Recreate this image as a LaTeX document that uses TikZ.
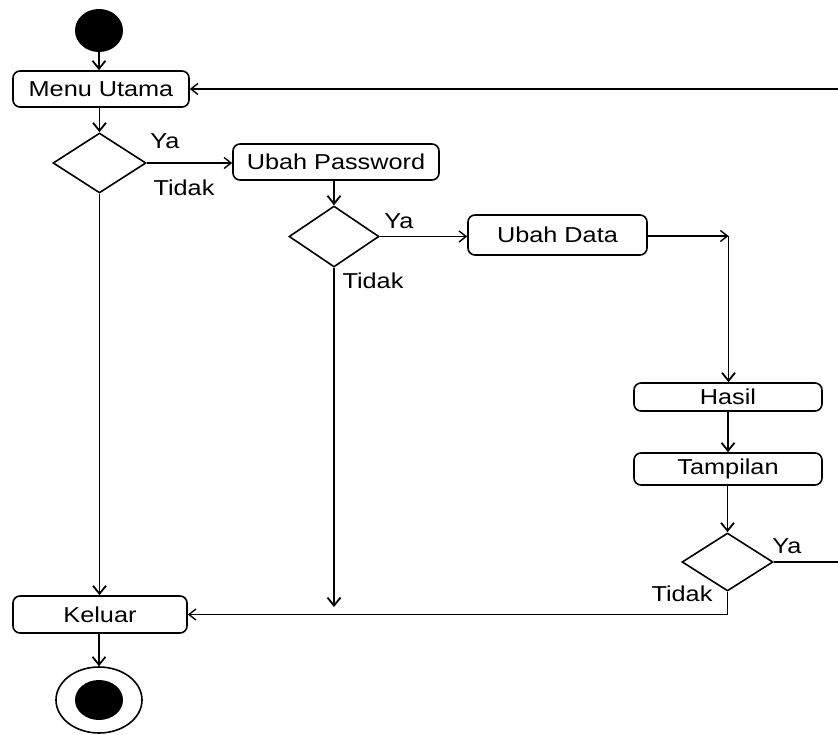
\documentclass[tikz,border=0pt]{standalone}
\usepackage{fontspec}
\newfontfamily\lab{Liberation Sans}[FakeStretch=1.17]
\usetikzlibrary{arrows.meta,shapes.geometric}
\begin{document}
\begin{tikzpicture}[x=1pt,y=-1pt,
  txt/.style={font=\lab\fontsize{21.6}{26}\selectfont},
  act/.style={draw, rounded corners=7pt, line width=1.6pt, inner sep=0pt, txt},
  dec/.style={draw, diamond, line width=1.6pt, inner sep=0pt},
  flow/.style={line width=1.8pt, -{Straight Barb[length=8pt,width=13pt]}},
  hflow/.style={line width=1.4pt, -{Straight Barb[length=7pt,width=11pt]}},
  lbl/.style={txt, inner sep=0pt}]
\useasboundingbox (0,0) rectangle (838,735);
\clip (0,0) rectangle (838,735);
\fill[white] (0,0) rectangle (838,735);
% nodes
\node[fill=black, ellipse, inner sep=0pt, minimum width=48pt, minimum height=43pt] (start) at (99,30.5) {};
\node[act, minimum width=176pt, minimum height=36pt] (mu) at (101,89) {Menu Utama};
\node[dec, minimum width=93pt, minimum height=60pt] (d1) at (99.5,163) {};
\node[act, minimum width=206pt, minimum height=36pt] (up) at (336,162) {Ubah Password};
\node[dec, minimum width=90pt, minimum height=61pt] (d2) at (334,236.5) {};
\node[act, minimum width=179pt, minimum height=40pt] (ud) at (557.5,235) {Ubah Data};
\coordinate (j) at (728.5,236);
\node[act, minimum width=188pt, minimum height=28pt] (ha) at (728,397) {Hasil};
\node[act, minimum width=188pt, minimum height=32pt] (tp) at (728,469) {Tampilan};
\node[dec, minimum width=91pt, minimum height=58pt] (d3) at (727.5,562) {};
\node[act, minimum width=174pt, minimum height=37pt] (ke) at (100,614.5) {Keluar};
\node[ellipse, draw, line width=1.6pt, inner sep=0pt, minimum width=86pt, minimum height=66pt] (end) at (99,700) {};
\node[ellipse, fill=black, inner sep=0pt, minimum width=48pt, minimum height=40pt] (endin) at (end) {};
\coordinate (e2) at (334,607);
% labels
\node[lbl] (ya1) at (165,141) {Ya};
\node[lbl] (td1) at (184,188) {Tidak};
\node[lbl] (ya2) at (399,221) {Ya};
\node[lbl] (td2) at (373,281) {Tidak};
\node[lbl] (ya3) at (787,546) {Ya};
\node[lbl] (td3) at (682,594) {Tidak};
% connectors
\draw[flow] (start.south) -- (start.south |- mu.north);
\draw[flow] (d1.north |- mu.south) -- (d1.north);
\draw[hflow] (d1.east) -- (d1.east -| up.west);
\draw[flow] (d1.south) -- (d1.south |- ke.north);
\draw[flow] (d2.north |- up.south) -- (d2.north);
\draw[hflow] (d2.east) -- (d2.east -| ud.west);
\draw[hflow] (ud.east |- j) -- (j);
\draw[flow] (j) -- (j |- ha.north);
\draw[flow] (ha.south) -- (tp.north);
\draw[flow] (d3.north |- tp.south) -- (d3.north);
\draw[flow] (d2.south) -- (e2);
\draw[hflow] (d3.south) -- (d3.south |- ke.east) -- (ke.east);
\draw[hflow] (d3.east) -- ++(90,0) |- (mu.east);
\draw[flow] (end.north |- ke.south) -- (end.north);
\end{tikzpicture}
\end{document}
